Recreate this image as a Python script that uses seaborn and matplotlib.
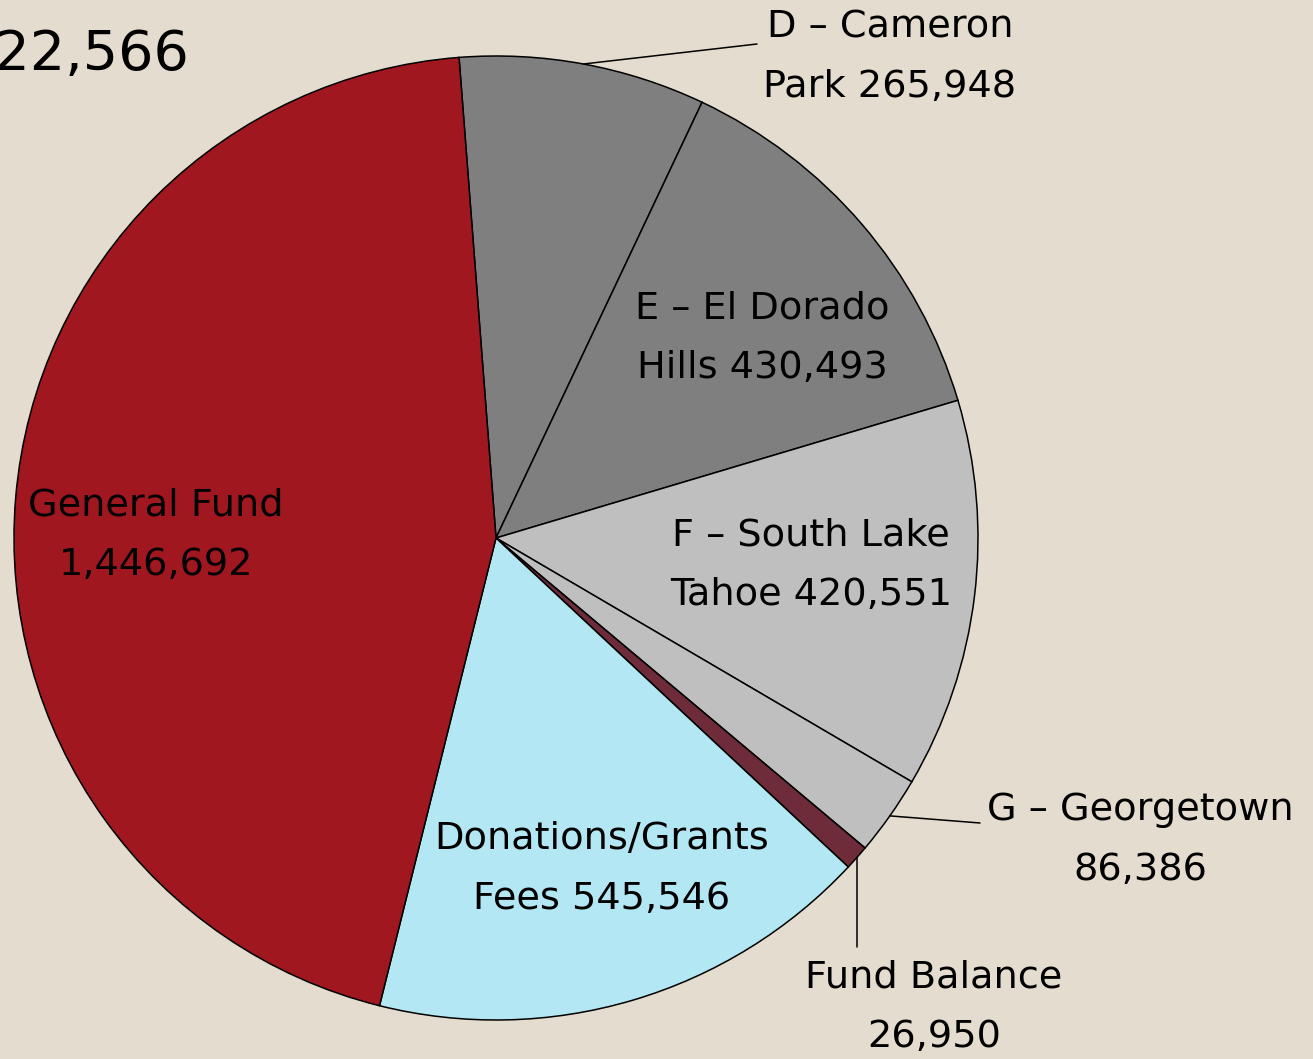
import numpy as np
import matplotlib
matplotlib.use("Agg")
import matplotlib.pyplot as plt
import seaborn as sns

# Revenue sources (clockwise from top)
sources = ["D \u2013 Cameron\nPark", "E \u2013 El Dorado\nHills", "F \u2013 South Lake\nTahoe",
           "G \u2013 Georgetown\n", "Fund Balance\n", "Donations/Grants\nFees", "General Fund\n"]
amounts = [265948, 430493, 420551, 86386, 26950, 545546, 1446692]
slice_colors = ["#7F7F7F", "#7F7F7F", "#BFBFBF", "#BFBFBF", "#6E2C3A", "#B3E7F3", "#A1171F"]

sns.set_style("white")
plt.rcParams['font.family'] = ['DejaVu Sans']

W, H = 1313, 1059
bg = "#E3DCCF"

fig = plt.figure(figsize=(W / 100, H / 100), dpi=100, facecolor=bg)
ax = fig.add_axes([0, 0, 1, 1])
ax.set_facecolor(bg)


def px(x, y):
    # pixel coords (origin top-left) -> data coords
    return x, H - y


cx, cy = px(496, 538)
R = 482
wedges, _ = ax.pie(amounts, colors=slice_colors, startangle=94.4, counterclock=False,
                   center=(cx, cy), radius=R,
                   wedgeprops=dict(edgecolor="black", linewidth=1.1))
ax.set_xlim(0, W)
ax.set_ylim(0, H)
ax.set_aspect("equal")
ax.axis("off")

# label anchors (pixels) and optional leader line end points (None -> straight down)
label_pos = [(890, 57), (762, 338), (811, 565), (1140, 840), (934, 1007), (602, 869), (156, 535)]
leader_end = {0: (757, 44), 3: (980, 823), 4: (None, 947)}

for i, (w, name, amt) in enumerate(zip(wedges, sources, amounts)):
    text = name.rstrip("\n") + ("\n" if name.endswith("\n") else " ") + f"{amt:,}"
    x, y = px(*label_pos[i])
    ax.text(x, y, text, ha="center", va="center", multialignment="center",
            fontsize=27.5, color="black", linespacing=1.83)
    if i in leader_end:
        mid = np.deg2rad((w.theta1 + w.theta2) / 2)
        x0, y0 = cx + R * np.cos(mid), cy + R * np.sin(mid)
        ex, ey = leader_end[i]
        x1 = x0 if ex is None else ex
        y1 = H - ey
        ax.plot([x0, x1], [y0, y1], color="black", lw=1.1)

# title (left part falls outside the canvas, as in the source)
tx, ty = px(190, 70)
ax.text(tx, ty, f"{sum(amounts):,}", ha="right", va="baseline", fontsize=40, color="black")

fig.savefig("out.png", dpi=100, facecolor=bg)
